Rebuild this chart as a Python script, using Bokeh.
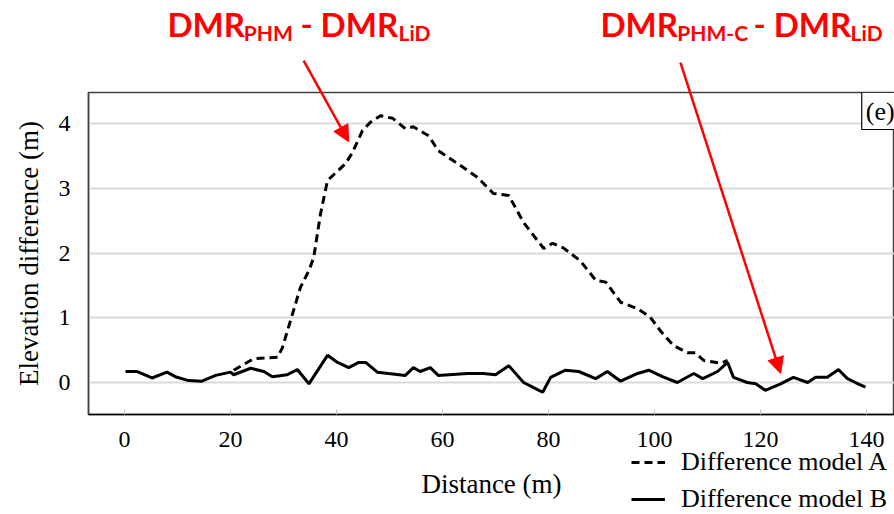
from bokeh.plotting import figure
from bokeh.layouts import column
from bokeh.models import (Range1d, FixedTicker, Label, Arrow, NormalHead, Legend, LegendItem)
from bokeh.embed import file_html
from bokeh.resources import INLINE

# ---- data ----
dist_a = [20.6, 24.4, 28.9, 29.8, 33.2, 34.8, 35.7, 37.0, 38.3, 41.7, 43.0, 44.9, 46.4, 48.3,
          50.6, 53.0, 54.5, 57.4, 59.2, 63.4, 66.6, 69.6, 72.5, 75.3, 79.1, 80.8, 82.8,
          86.0, 88.9, 90.8, 93.6, 96.8, 99.2, 101.1, 103.6, 106.2, 107.7, 109.3, 112.5, 113.8]
diff_a = [0.19, 0.37, 0.39, 0.54, 1.47, 1.73, 1.93, 2.61, 3.12, 3.38, 3.55, 3.89, 4.02, 4.12,
          4.08, 3.92, 3.95, 3.81, 3.58, 3.35, 3.17, 2.92, 2.89, 2.47, 2.07, 2.15, 2.08,
          1.88, 1.58, 1.55, 1.24, 1.14, 1.01, 0.80, 0.57, 0.46, 0.46, 0.34, 0.30, 0.34]

dist_b = [0.2, 2.4, 5.2, 8.0, 9.6, 12.1, 14.6, 17.2, 20.0, 20.6, 23.8, 26.3, 27.9, 30.7,
          32.6, 34.8, 38.3, 40.2, 42.3, 44.2, 45.5, 47.7, 49.8, 53.0, 54.5, 55.8, 57.7,
          59.2, 64.7, 67.7, 70.0, 72.5, 75.3, 77.2, 78.9, 80.4, 83.2, 85.7, 88.9, 91.1,
          93.6, 96.8, 98.9, 101.5, 104.3, 107.4, 109.1, 111.9, 113.8, 114.9, 117.5, 119.1,
          120.9, 123.8, 126.2, 128.9, 130.4, 132.6, 134.7, 136.4, 137.9, 139.8]
diff_b = [0.17, 0.17, 0.07, 0.16, 0.09, 0.03, 0.02, 0.11, 0.16, 0.12, 0.22, 0.17, 0.09, 0.12,
          0.20, -0.02, 0.42, 0.31, 0.23, 0.31, 0.31, 0.16, 0.14, 0.11, 0.23, 0.17, 0.23,
          0.11, 0.14, 0.14, 0.12, 0.26, 0.00, -0.08, -0.15, 0.08, 0.19, 0.17, 0.06, 0.17,
          0.02, 0.14, 0.19, 0.09, 0.00, 0.14, 0.06, 0.17, 0.31, 0.08, 0.00, -0.02,
          -0.12, -0.02, 0.08, 0.00, 0.08, 0.08, 0.20, 0.06, 0.00, -0.07]

x_ticks = [0, 20, 40, 60, 80, 100, 120, 140]
y_ticks = [0, 1, 2, 3, 4]
label_a = "Difference model A"
label_b = "Difference model B"

SERIF = "Liberation Serif"
RED = "#ff0000"
W, H = 894, 514
# frame placement (pixels) and data ranges
FL, FR, FT, FB = 88, 894, 92, 414
X0, X1 = -6.79, 145.28
Y0, Y1 = -0.494, 4.479

# ---- base figure: frame, axes, grid ----
p = figure(width=W, height=H, output_backend="svg", toolbar_location=None,
           x_range=Range1d(X0, X1), y_range=Range1d(Y0, Y1),
           min_border_left=FL, min_border_right=W - FR, min_border_top=FT,
           min_border_bottom=H - FB)

p.background_fill_color = "white"
p.border_fill_color = "white"
p.outline_line_color = "#404040"
p.outline_line_width = 1.5

p.xgrid.visible = False
p.ygrid.grid_line_color = "#d9d9d9"
p.ygrid.grid_line_width = 2

p.xaxis.ticker = FixedTicker(ticks=x_ticks)
p.yaxis.ticker = FixedTicker(ticks=y_ticks)
p.xaxis.minor_tick_line_color = None
p.yaxis.minor_tick_line_color = None
p.yaxis.major_tick_line_color = None
p.xaxis.major_tick_in = 5
p.xaxis.major_tick_out = 0
p.xaxis.major_tick_line_color = "#bfbfbf"
p.xaxis.axis_line_color = "black"
p.xaxis.axis_line_width = 1.5
p.yaxis.axis_line_color = "#404040"
p.yaxis.axis_line_width = 1.5

for ax in (p.xaxis, p.yaxis):
    ax.major_label_text_font = SERIF
    ax.major_label_text_font_size = "24px"
    ax.major_label_text_color = "black"
    ax.axis_label_text_font = SERIF
    ax.axis_label_text_font_size = "27px"
    ax.axis_label_text_font_style = "normal"
    ax.axis_label_text_color = "black"

p.xaxis.axis_label = "Distance (m)"
p.yaxis.axis_label = "Elevation difference (m)"
p.xaxis.major_label_standoff = 17
p.xaxis.axis_label_standoff = 19
p.yaxis.major_label_standoff = 12
p.yaxis.axis_label_standoff = 12

# panel label
p.add_layout(Label(x=139.1, y=Y1, text="(e)", text_font=SERIF, text_font_size="26px",
                   text_color="black", text_baseline="top", text_align="left", padding=4,
                   border_line_color="black", border_line_width=1.2,
                   background_fill_color="white"))

# ---- transparent overlay: same horizontal frame and data mapping, vertically spanning the canvas ----
sy = (Y1 - Y0) / (FB - FT)
q = figure(width=W, height=H, output_backend="svg", toolbar_location=None, title=None,
           x_range=Range1d(X0, X1),
           y_range=Range1d(Y0 - (H - FB) * sy, Y1 + FT * sy),
           x_axis_location=None, y_axis_location=None,
           min_border_left=FL, min_border_right=W - FR, min_border_top=0, min_border_bottom=0)
q.grid.visible = False
q.outline_line_color = None
q.background_fill_color = None
q.border_fill_color = None
q.styles = {"position": "absolute", "top": "0px", "left": "0px"}

la = q.line(dist_a, diff_a, line_color="black", line_width=3, line_dash="8 5")
lb = q.line(dist_b, diff_b, line_color="black", line_width=3)
legend = Legend(items=[LegendItem(label=label_a, renderers=[la]),
                       LegendItem(label=label_b, renderers=[lb])],
                location=(631 - FL, 0), orientation="vertical",
                label_text_font=SERIF, label_text_font_size="26px", label_text_color="black",
                label_height=26, glyph_height=26, glyph_width=34, label_standoff=16,
                spacing=7, padding=0, margin=0,
                border_line_color=None, background_fill_alpha=0)
q.add_layout(legend)

MAIN_Y, SUB_Y = 5.54, 5.40
BIG, SMALL = "33px", "21px"
pieces = [
    ("DMR", 8.1, MAIN_Y, BIG), ("PHM", 22.5, SUB_Y, SMALL), ("-", 33.2, MAIN_Y, BIG),
    ("DMR", 37.0, MAIN_Y, BIG), ("LiD", 51.7, SUB_Y, SMALL),
    ("DMR", 89.8, MAIN_Y, BIG), ("PHM-C", 104.3, SUB_Y, SMALL), ("-", 118.7, MAIN_Y, BIG),
    ("DMR", 122.5, MAIN_Y, BIG), ("LiD", 137.0, SUB_Y, SMALL),
]
for txt, xx, yy, fs in pieces:
    q.add_layout(Label(x=xx, y=yy, text=txt, text_font="Lato", text_font_style="bold",
                       text_font_size=fs, text_color=RED, text_baseline="alphabetic",
                       text_align="left"))

arrows = [(33.8, 4.97, 42.3, 3.72), (104.9, 4.94, 123.8, 0.14)]
for xs, ys, xe, ye in arrows:
    q.add_layout(Arrow(x_start=xs, y_start=ys, x_end=xe, y_end=ye, line_color=RED, line_width=2.5,
                       end=NormalHead(size=16, fill_color=RED, line_color=RED)))

layout = column(p, q)
open("out.html", "w").write(file_html(layout, INLINE))
